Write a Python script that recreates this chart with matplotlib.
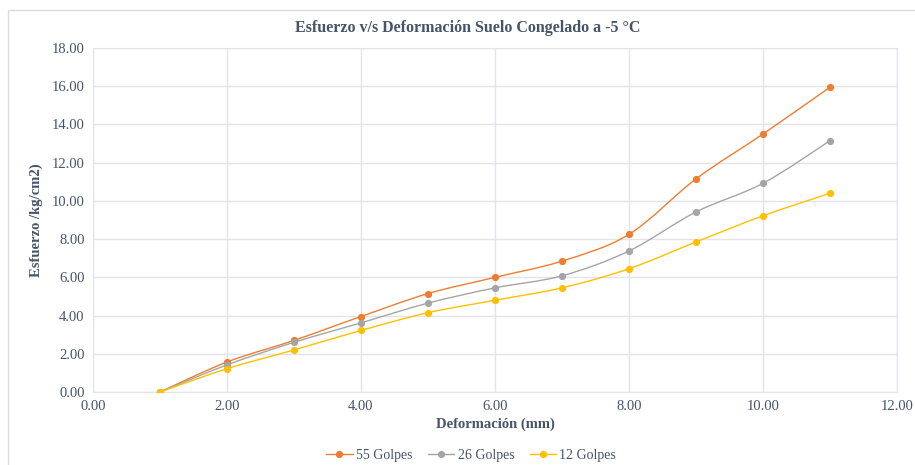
import numpy as np
import matplotlib.pyplot as plt
from matplotlib.path import Path
from matplotlib.patches import PathPatch, Rectangle
from matplotlib.lines import Line2D

plt.rcParams['font.family'] = ['Liberation Serif', 'DejaVu Serif']

deformacion = [1, 2, 3, 4, 5, 6, 7, 8, 9, 10, 11]
golpes_55 = [0.00, 1.57, 2.70, 3.95, 5.15, 6.00, 6.85, 8.25, 11.15, 13.50, 15.95]
golpes_26 = [0.00, 1.42, 2.60, 3.62, 4.65, 5.45, 6.08, 7.38, 9.42, 10.92, 13.15]
golpes_12 = [0.00, 1.22, 2.20, 3.22, 4.15, 4.80, 5.45, 6.45, 7.85, 9.22, 10.40]

series = [('55 Golpes', golpes_55, '#ED7D31'),
          ('26 Golpes', golpes_26, '#A5A5A5'),
          ('12 Golpes', golpes_12, '#FFC000')]

text_color = '#44546A'
grid_color = '#E1E4EA'


def smooth_path(x, y):
    # curva tipo "línea suavizada" de Excel (Bezier por tramos)
    x = np.asarray(x, float)
    y = np.asarray(y, float)
    verts = [(x[0], y[0])]
    codes = [Path.MOVETO]
    n = len(x)
    for i in range(n - 1):
        x0, y0 = (x[i - 1], y[i - 1]) if i > 0 else (x[i], y[i])
        x3, y3 = (x[i + 2], y[i + 2]) if i + 2 < n else (x[i + 1], y[i + 1])
        c1 = (x[i] + (x[i + 1] - x0) / 6, y[i] + (y[i + 1] - y0) / 6)
        c2 = (x[i + 1] - (x3 - x[i]) / 6, y[i + 1] - (y3 - y[i]) / 6)
        verts += [c1, c2, (x[i + 1], y[i + 1])]
        codes += [Path.CURVE4] * 3
    return Path(verts, codes)


fig = plt.figure(figsize=(9.15, 4.65), dpi=100)
fig.patches.append(Rectangle((8 / 915, -0.1), 1.2, 1.1 - 10 / 465,
                             transform=fig.transFigure, fill=False,
                             edgecolor='#D9DDE3', linewidth=1.0))
ax = fig.add_axes([93 / 915, 1 - 392 / 465, 804 / 915, 344 / 465])

for name, vals, col in series:
    ax.add_patch(PathPatch(smooth_path(deformacion, vals), fill=False,
                           edgecolor=col, linewidth=1.0, zorder=3))
    ax.plot(deformacion, vals, linestyle='none', marker='o', markersize=4.2,
            color=col, zorder=4)

ax.set_xlim(0, 12)
ax.set_ylim(0, 18)
ax.set_xticks(np.arange(0, 12.1, 2))
ax.set_yticks(np.arange(0, 18.1, 2))
ax.xaxis.set_major_formatter(lambda v, p: f'{v:.2f}')
ax.yaxis.set_major_formatter(lambda v, p: f'{v:.2f}')
ax.tick_params(length=0, labelsize=10.5, colors=text_color, pad=6)
ax.grid(True, color=grid_color, linewidth=1.0)
ax.set_axisbelow(True)
for s in ax.spines.values():
    s.set_color(grid_color)

ax.set_xlabel('Deformación (mm)', fontsize=10.5, fontweight='bold',
              color=text_color, labelpad=3)
ax.set_ylabel('Esfuerzo /kg/cm2)', fontsize=10.5, fontweight='bold',
              color=text_color, labelpad=6)
fig.text(0.5 + 10 / 915, 1 - 28 / 465, 'Esfuerzo v/s Deformación Suelo Congelado a -5 °C',
         ha='center', va='center', fontsize=11.5, fontweight='bold', color=text_color)

handles = [Line2D([], [], color=col, marker='o', markersize=4.2, linewidth=1.0)
           for _, _, col in series]
fig.legend(handles, [s[0] for s in series], loc='center', ncol=3,
           bbox_to_anchor=(0.515, 1 - 455 / 465), frameon=False, fontsize=10,
           labelcolor=text_color, handlelength=1.9, handletextpad=0.25,
           columnspacing=1.1)

fig.savefig('out.png', dpi=100)
